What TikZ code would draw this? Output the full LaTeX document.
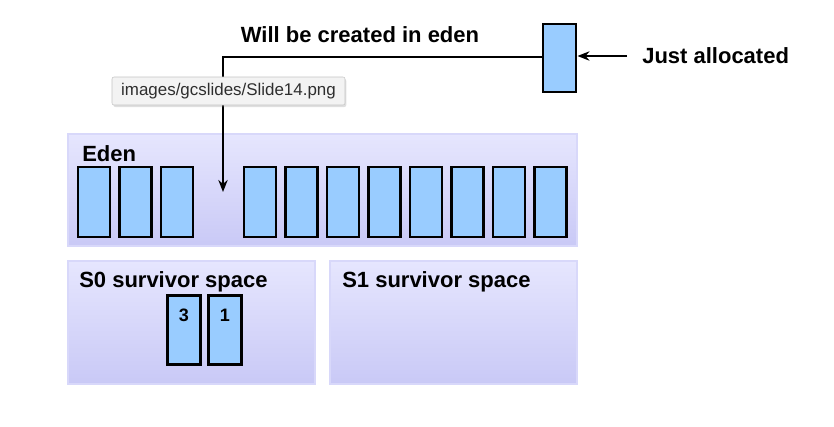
\documentclass[tikz,border=0pt]{standalone}
\usepackage{fontspec}
\setmainfont{Liberation Sans}
\usepackage{tikz}
\usetikzlibrary{positioning,calc,arrows.meta,shadows}
\definecolor{spacetop}{HTML}{E6E6FE}
\definecolor{spacebot}{HTML}{C9C9F6}
\definecolor{spaceedge}{HTML}{D8D8FA}
\definecolor{objfill}{HTML}{99CCFF}
\definecolor{tipfill}{HTML}{F3F3F3}
\definecolor{tipedge}{HTML}{C4C4C4}
\definecolor{tiptext}{HTML}{2E2E2E}
\tikzset{
  space/.style={draw=spaceedge,line width=1.5pt,top color=spacetop,bottom color=spacebot,
    inner sep=0pt,anchor=north west},
  obj/.style={draw=black,line width=2.2pt,fill=objfill,inner sep=0pt,
    minimum width=32*0.75pt,minimum height=70*0.75pt},
  lbl/.style={font=\fontsize{16.5}{18}\selectfont\bfseries,inner sep=0pt},
  num/.style={font=\fontsize{13.5}{15}\selectfont\bfseries,inner sep=0pt},
  arr/.style={line width=2.2pt,-{Stealth[length=9pt,width=7pt]}},
  tip/.style={draw=tipedge,fill=tipfill,rounded corners=1.5pt,drop shadow={opacity=.25,shadow xshift=1pt,shadow yshift=-1.5pt},
    font=\fontsize{12.7}{14}\selectfont,text=tiptext,minimum width=233*0.75pt,minimum height=28*0.75pt,inner sep=0pt}
}
\begin{document}
\begin{tikzpicture}[x=0.75pt,y=-0.75pt]
\useasboundingbox (0,0) rectangle (834,426);
% heap spaces
\node[space,minimum width=509*0.75pt,minimum height=112*0.75pt] (eden) at (67,133) {};
\node[space,minimum width=247*0.75pt,minimum height=123*0.75pt] (s0) at (67,260) {};
\node[space,minimum width=247*0.75pt,minimum height=123*0.75pt] (s1) at (329,260) {};
\node[lbl,anchor=west] (edenlbl) at (82,154) {Eden};
\node[lbl,anchor=west] (s0lbl) at (79,282) {S0 survivor space};
\node[lbl,anchor=west] (s1lbl) at (342,282) {S1 survivor space};
% objects in eden, slot 3 left free
\foreach \k in {0,1,2,4,5,6,7,8,9,10,11}
  \node[obj] (e\k) at (94+41.5*\k,202) {};
% objects in S0
\node[obj,minimum width=33*0.75pt,minimum height=69*0.75pt] (sa) at (184,330) {};
\node[obj,minimum width=33*0.75pt,minimum height=69*0.75pt] (sb) at (225,330) {};
\node[num,below=15*0.75pt of sa.north] {3};
\node[num,below=15*0.75pt of sb.north] {1};
% new object
\node[obj,minimum width=33*0.75pt,minimum height=68*0.75pt] (new) at (559.5,58) {};
\node[lbl,anchor=west] (ja) at (642,56) {Just allocated};
\node[lbl] (will) at (360,35) {Will be created in eden};
\coordinate (slot) at (223,192);
\draw[arr] ($(ja.west)+(-15,0)$) -- (new.east |- ja.west);
\draw[arr] (new.west |- 0,57) -| (slot);
% tooltip
\node[tip] (tt) at (228.5,91) {images/gcslides/Slide14.png};
\end{tikzpicture}
\end{document}
